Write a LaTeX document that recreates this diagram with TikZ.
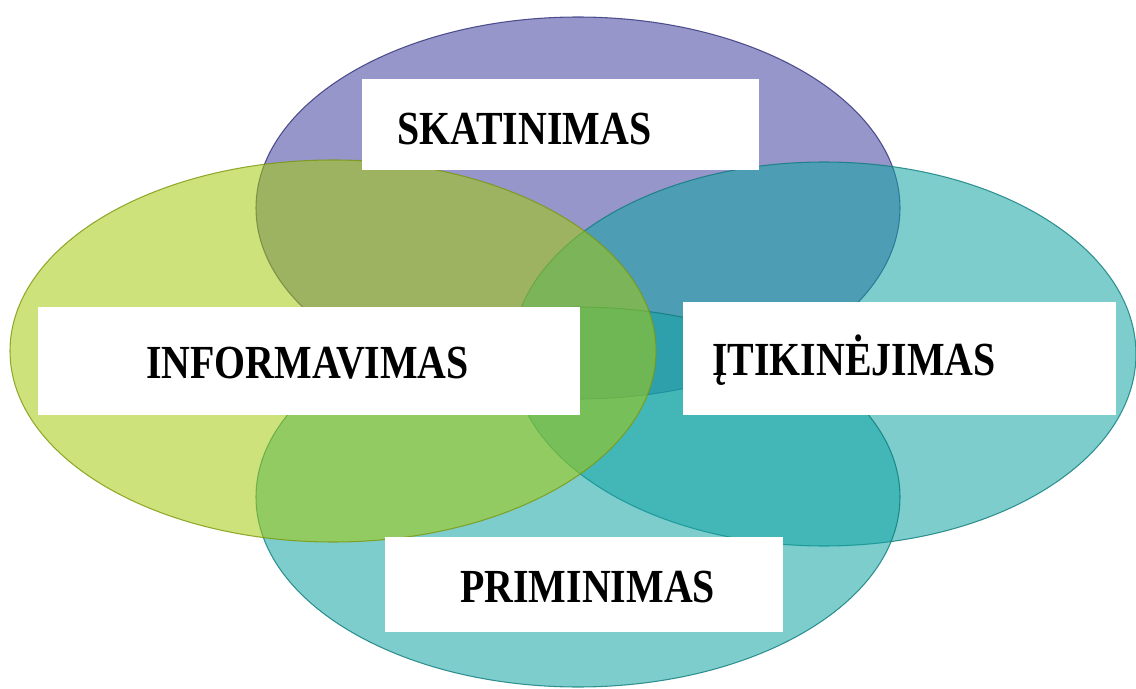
\documentclass[tikz,border=0pt]{standalone}
\usepackage{fontspec}
\setmainfont{Liberation Serif}
\newfontfamily\boxfont{Liberation Serif}[FakeStretch=0.84]
\definecolor{topc}{RGB}{64,64,160}
\definecolor{sidec}{RGB}{19,164,164}
\definecolor{leftc}{RGB}{164,202,13}
\tikzset{
  wbox/.style={fill=white, inner sep=0pt},
  lbl/.style={font={\boxfont\bfseries\fontsize{27}{32}\selectfont}, inner sep=0pt, anchor=base west}
}
\begin{document}
\begin{tikzpicture}
  \useasboundingbox (0,0) rectangle (22.72,13.76);
  % ellipses, back to front
  \foreach \col/\cx/\cy/\rx/\ry in {topc/11.56/9.6/6.44/3.82, sidec/16.48/6.68/6.24/3.84, sidec/11.56/3.82/6.44/3.8, leftc/6.66/6.74/6.46/3.82}
    {\filldraw[draw=\col!75!black, fill=\col, fill opacity=0.55, draw opacity=0.8, line width=0.6pt] (\cx,\cy) ellipse [x radius=\rx, y radius=\ry];}
  % white label boxes
  \node[wbox, minimum width=7.94cm, minimum height=1.82cm] (skatbox) at (11.21,11.27) {};
  \node[wbox, minimum width=10.84cm, minimum height=2.16cm] (infobox) at (6.18,6.54) {};
  \node[wbox, minimum width=8.66cm, minimum height=2.26cm] (itikbox) at (17.99,6.59) {};
  \node[wbox, minimum width=7.96cm, minimum height=1.9cm] (primbox) at (11.68,2.07) {};
  \node[lbl] (skat) at (7.94,10.86) {SKATINIMAS};
  \node[lbl] (info) at (2.92,6.2) {INFORMAVIMAS};
  \node[lbl] (itik) at (14.24,6.26) {ĮTIKINĖJIMAS};
  \node[lbl] (prim) at (9.2,1.72) {PRIMINIMAS};
\end{tikzpicture}
\end{document}
